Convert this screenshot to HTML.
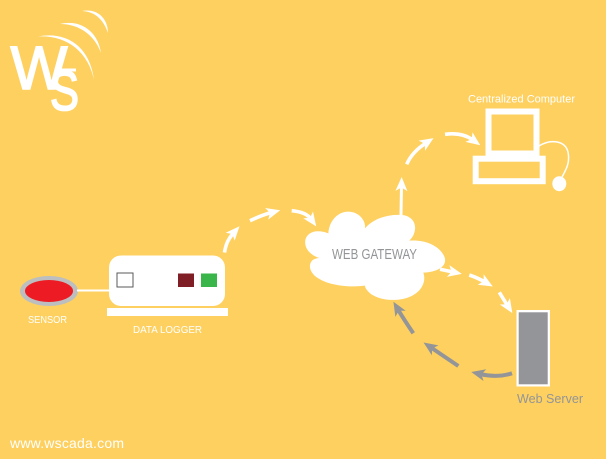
<!DOCTYPE html>
<html>
<head>
<meta charset="utf-8">
<style>
html,body{margin:0;padding:0;background:#fed05f;}
svg{display:block;}
text{font-family:"Liberation Sans",sans-serif;}
</style>
</head>
<body>
<svg width="606" height="459" viewBox="0 0 606 459" xmlns="http://www.w3.org/2000/svg">
<defs>
<marker id="w" markerUnits="userSpaceOnUse" markerWidth="16" markerHeight="14" refX="5" refY="6.5" orient="auto" overflow="visible"><polygon points="0,0.5 14,6.5 0,12.5 3.5,6.5" fill="#fff"/></marker>
<marker id="g" markerUnits="userSpaceOnUse" markerWidth="16" markerHeight="14" refX="5" refY="6.5" orient="auto" overflow="visible"><polygon points="0,0.5 14,6.5 0,12.5 3.5,6.5" fill="#939598"/></marker>
</defs>
<rect width="606" height="459" fill="#fed05f"/>

<!-- logo -->
<text x="10.5" y="89" font-size="61" fill="#fff" stroke="#fff" stroke-width="1.6" textLength="57" lengthAdjust="spacingAndGlyphs">W</text>
<text x="50" y="110" font-size="56" fill="#fff" stroke="#fff" stroke-width="1.8" textLength="29" lengthAdjust="spacingAndGlyphs">S</text>
<rect x="55" y="68.5" width="21" height="3" fill="#fff"/>
<path d="M38,36.5C66,31 90,46 94,80C88,51 66,35 38,36.5Z" fill="#fff"/>
<path d="M60,24C80,19 98,31 101,53C95,36 80,24 60,24Z" fill="#fff"/>
<path d="M82,11C97,8 108,18 108,33C104,21 96,11.5 82,11Z" fill="#fff"/>

<!-- sensor -->
<ellipse cx="49" cy="291" rx="29" ry="15" fill="#bcbec0"/>
<ellipse cx="49" cy="291" rx="24" ry="11" fill="#ed1c24"/>
<rect x="77" y="289.5" width="34" height="2" fill="#fff"/>
<text x="28" y="323" font-size="10.5" fill="#fff" textLength="39" lengthAdjust="spacingAndGlyphs">SENSOR</text>

<!-- data logger -->
<rect x="109" y="255.5" width="116" height="50.5" rx="12" fill="#fff"/>
<rect x="107" y="308" width="121" height="8" fill="#fff"/>
<rect x="117" y="273" width="16" height="14" fill="#fff" stroke="#58595b" stroke-width="1"/>
<rect x="178" y="273.5" width="16" height="13.5" fill="#7f1f25"/>
<rect x="201" y="273.5" width="16" height="13.5" fill="#39b54a"/>
<text x="133" y="333" font-size="10.5" fill="#fff" textLength="69" lengthAdjust="spacingAndGlyphs">DATA LOGGER</text>

<!-- cloud -->
<g transform="translate(290,170) scale(.3333)">
<path d="M115,190C118,150 145,125 175,125C205,125 228,150 225,175C250,145 295,132 335,135C365,137 382,160 373,188C370,200 362,208 358,212C400,208 450,225 464,262C472,288 445,306 400,308C408,330 400,360 365,378C325,398 260,392 235,365C228,358 225,352 225,347C190,352 125,350 85,325C60,310 52,285 68,270C75,266 82,264 88,264C60,255 42,235 46,210C50,190 75,175 115,190Z" fill="#fff"/>
</g>
<text x="332" y="259" font-size="14.5" fill="#939598" textLength="85" lengthAdjust="spacingAndGlyphs">WEB GATEWAY</text>

<!-- computer -->
<rect x="488.5" y="111.5" width="48" height="42" fill="none" stroke="#fff" stroke-width="6"/>
<rect x="475.7" y="158.7" width="67" height="22.5" fill="none" stroke="#fff" stroke-width="6"/>
<path d="M539,146C550,139 565,140 568,152C570,162 567,168 562,177" fill="none" stroke="#fff" stroke-width="1.5"/>
<ellipse cx="559.3" cy="183.7" rx="7" ry="7.5" fill="#fff"/>
<text x="468" y="102.5" font-size="11" fill="#fff" textLength="107" lengthAdjust="spacingAndGlyphs">Centralized Computer</text>

<!-- server -->
<rect x="516.5" y="310" width="33.5" height="76.5" fill="#fff"/>
<rect x="518.7" y="312.3" width="29" height="72" fill="#939598"/>
<text x="517" y="403" font-size="13" fill="#939598" textLength="66" lengthAdjust="spacingAndGlyphs">Web Server</text>

<!-- white arrows -->
<g fill="none" stroke="#fff" stroke-width="3.6">
<path d="M224.5,252.5C226,243 229,238 233.5,233" marker-end="url(#w)"/>
<path d="M250,220.7Q262,215 271.5,212.5" marker-end="url(#w)"/>
<path d="M291.7,210.7Q306,212 311,219" marker-end="url(#w)"/>
<path d="M401,215L401.5,186" marker-end="url(#w)" stroke-width="3"/>
<path d="M406.7,164.3Q412,152 426,143" marker-end="url(#w)"/>
<path d="M445,134.3Q462,132 473,140" marker-end="url(#w)"/>
<path d="M440,269.3L453,272" marker-end="url(#w)"/>
<path d="M469.3,275Q478,278 485,282" marker-end="url(#w)"/>
<path d="M499.3,292.3Q504,300 507.5,305.5" marker-end="url(#w)"/>
</g>

<!-- gray arrows -->
<g fill="none" stroke="#939598" stroke-width="4">
<path d="M512,373.3Q497,378 480,374" marker-end="url(#g)"/>
<path d="M458.3,366L431,347.5" marker-end="url(#g)"/>
<path d="M413.3,333.3Q403,318 398,309.5" marker-end="url(#g)"/>
</g>

<text x="10" y="448" font-size="14" fill="#fff" textLength="114" lengthAdjust="spacing">www.wscada.com</text>
</svg>
</body>
</html>
